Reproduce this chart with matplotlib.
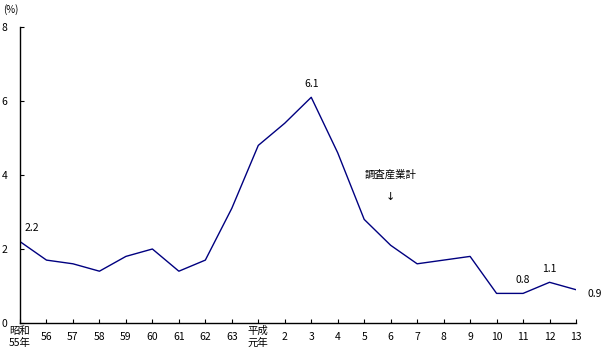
import matplotlib
matplotlib.use("Agg")
import matplotlib.pyplot as plt

plt.rcParams['font.family'] = ['Noto Sans CJK JP', 'DejaVu Sans']

categories = ["昭和\n55年", "56", "57", "58", "59", "60", "61", "62", "63",
              "平成\n元年", "2", "3", "4", "5", "6", "7", "8", "9", "10", "11", "12", "13"]
values = [2.2, 1.7, 1.6, 1.4, 1.8, 2.0, 1.4, 1.7, 3.1,
          4.8, 5.4, 6.1, 4.6, 2.8, 2.1, 1.6, 1.7, 1.8, 0.8, 0.8, 1.1, 0.9]
labeled = {0: "2.2", 11: "6.1", 19: "0.8", 20: "1.1", 21: "0.9"}
y_ticks = [0, 2, 4, 6, 8]

fig = plt.figure(figsize=(6.04, 3.53), dpi=100)
ax = fig.add_axes([20/604, 30/353, 556/604, 296/353])
x = list(range(len(values)))
ax.plot(x, values, color="#000080", linewidth=1.0)

ax.set_xlim(0, len(values) - 1)
ax.set_ylim(0, 8)
for s in ['top', 'right']:
    ax.spines[s].set_visible(False)
for s in ['left', 'bottom']:
    ax.spines[s].set_linewidth(1.0)
    ax.spines[s].set_color('black')

ax.set_yticks(y_ticks)
ax.set_yticklabels([str(v) for v in y_ticks])
ax.set_xticks(x)
ax.set_xticklabels(categories, linespacing=1.3, va='center')
ax.tick_params(axis='both', direction='in', length=3, width=0.8, labelsize=7.5)
ax.tick_params(axis='x', pad=10)
ax.tick_params(axis='y', pad=9)

offsets = {0: (3, 6), 11: (0, 6), 19: (0, 6), 20: (0, 6), 21: (8, -3)}
for i, t in labeled.items():
    dx, dy = offsets[i]
    ha = 'left' if i in (0, 21) else 'center'
    ax.annotate(t, (i, values[i]), xytext=(dx, dy), textcoords='offset points',
                ha=ha, va='bottom' if dy > 0 else 'center', fontsize=7.5)

ax.text(14.0, 4.0, "調査産業計", ha='center', va='center', fontsize=7.5)
ax.text(14.0, 3.4, "↓", ha='center', va='center', fontsize=8, family=['DejaVu Sans'])

fig.text(3/604, 1 - 10/353, "(%)", fontsize=7, ha='left', va='center')

fig.savefig("out.png", dpi=100)
